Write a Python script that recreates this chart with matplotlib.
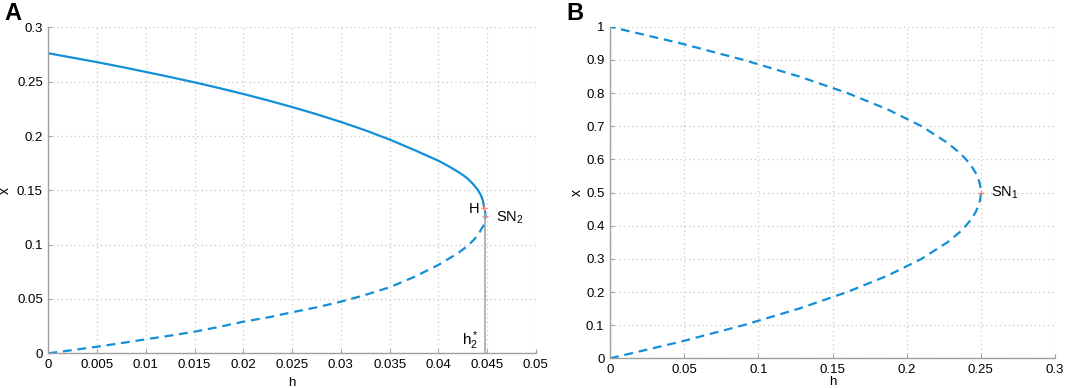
import numpy as np
import matplotlib
matplotlib.use("Agg")
import matplotlib.pyplot as plt

plt.rcParams['font.family'] = ['Liberation Sans', 'DejaVu Sans']

# panel A: equilibrium branches
hA_upper = [0, 0.0025, 0.005, 0.0075, 0.01, 0.0125, 0.015, 0.0175, 0.02, 0.0225, 0.025, 0.0275, 0.03,
            0.0325, 0.035, 0.0375, 0.04, 0.041, 0.042, 0.0426, 0.043, 0.0435, 0.044, 0.0443, 0.0445,
            0.0446, 0.04472]
xA_upper = [0.2762, 0.2721, 0.268, 0.2636, 0.259, 0.2543, 0.2494, 0.2442, 0.2387, 0.2329, 0.2267, 0.2201, 0.2130,
            0.2053, 0.1968, 0.1873, 0.1773, 0.1725, 0.1672, 0.1636, 0.1608, 0.1565, 0.1510, 0.1467, 0.1427,
            0.1392, 0.1335]
hA_lower = [0, 0.0025, 0.005, 0.0075, 0.01, 0.0125, 0.015, 0.0175, 0.02, 0.0225, 0.0248, 0.0275, 0.03,
            0.0325, 0.035, 0.0375, 0.04, 0.042, 0.043, 0.0437, 0.0442, 0.04466, 0.0448,
            0.04484, 0.0448, 0.04472]
xA_lower = [0, 0.003, 0.0061, 0.0094, 0.0129, 0.0163, 0.0199, 0.0243, 0.0291, 0.0330, 0.0374, 0.0423, 0.0475,
            0.0537, 0.0608, 0.0702, 0.0813, 0.0921, 0.0988, 0.1050, 0.1110, 0.1180, 0.1228,
            0.1267, 0.1300, 0.1335]
H_pt = (0.04472, 0.1335)
SN2_pt = (0.04484, 0.1267)

# panel B: single fold, both branches unstable
xB = [0, 0.05, 0.1, 0.15, 0.2, 0.25, 0.3, 0.35, 0.38, 0.4, 0.42, 0.44, 0.46, 0.47, 0.48, 0.49, 0.5,
      0.51, 0.52, 0.53, 0.54, 0.56, 0.58, 0.6, 0.62, 0.65, 0.7, 0.75, 0.8, 0.85, 0.9, 0.95, 1.0]
hB = [0, 0.0475, 0.09, 0.1275, 0.16, 0.1875, 0.21, 0.2275, 0.2356, 0.24, 0.2436, 0.2464, 0.2484, 0.2491,
      0.2496, 0.2499, 0.25,
      0.2499, 0.2496, 0.2491, 0.2484, 0.2464, 0.2436, 0.24, 0.2356, 0.2275, 0.21, 0.1875, 0.16, 0.1275,
      0.09, 0.0475, 0]
SN1_pt = (0.25, 0.5)

blue = '#138fd8'
mark = '#f08a8a'
gridc = '#c8c8c8'

fig = plt.figure(figsize=(10.65, 3.88), dpi=100)
axA = fig.add_axes([0.0454, 0.0894, 0.4577, 0.840])
axB = fig.add_axes([0.5728, 0.0765, 0.4178, 0.8546])


def style(ax, xt, yt):
    ax.set_xticks(xt)
    ax.set_yticks(yt)
    ax.set_xticklabels(['%g' % v for v in xt])
    ax.set_yticklabels(['%g' % v for v in yt])
    ax.set_xlim(xt[0], xt[-1])
    ax.set_ylim(yt[0], yt[-1])
    ax.grid(True, linestyle=(0, (1, 2.5)), color=gridc, linewidth=0.9)
    ax.set_axisbelow(True)
    for s in ['top', 'right']:
        ax.spines[s].set_visible(False)
    for s in ['left', 'bottom']:
        ax.spines[s].set_color('#a0a0a0')
        ax.spines[s].set_linewidth(1.0)
    ax.tick_params(direction='in', length=3, color='#a0a0a0', labelsize=9.5, pad=4)


style(axA, [0, 0.005, 0.01, 0.015, 0.02, 0.025, 0.03, 0.035, 0.04, 0.045, 0.05],
      [0, 0.05, 0.1, 0.15, 0.2, 0.25, 0.3])
axA.plot(hA_upper, xA_upper, color=blue, lw=1.6, solid_capstyle='butt', solid_joinstyle='round')
axA.plot(hA_lower, xA_lower, color=blue, lw=1.6, linestyle=(0, (4, 2.6)))
axA.plot([SN2_pt[0], SN2_pt[0]], [0, SN2_pt[1]], color='#b4b4b4', lw=1.4, zorder=1)
axA.plot(*H_pt, marker='+', color=mark, ms=5, mew=1)
axA.plot(*SN2_pt, marker='+', color=mark, ms=5, mew=1)
axA.text(0.0442, 0.1325, 'H', fontsize=10.5, ha='right', va='center')
axA.text(0.0459, 0.1245, 'SN$_{\\mathregular{2}}$', fontsize=10.5, ha='left', va='center')
axA.text(0.0441, 0.0015, '$\\mathregular{h_2^*}$', fontsize=11, ha='right', va='bottom')
axA.set_xlabel('h', fontsize=9.5)
axA.set_ylabel('x', fontsize=10)
axA.xaxis.set_label_coords(0.5, -0.074)
axA.yaxis.set_label_coords(-0.0745, 0.5)

style(axB, [0, 0.05, 0.1, 0.15, 0.2, 0.25, 0.3],
      [0, 0.1, 0.2, 0.3, 0.4, 0.5, 0.6, 0.7, 0.8, 0.9, 1.0])
axB.plot(hB, xB, color=blue, lw=1.6, linestyle=(0, (4, 2.6)))
axB.plot(*SN1_pt, marker='+', color=mark, ms=5, mew=1)
axB.text(0.257, 0.5, 'SN$_{\\mathregular{1}}$', fontsize=10.5, ha='left', va='center')
axB.set_xlabel('h', fontsize=9.5)
axB.set_ylabel('x', fontsize=10)
axB.xaxis.set_label_coords(0.5, -0.053)
axB.yaxis.set_label_coords(-0.058, 0.5)

fig.text(0.004, 0.995, 'A', fontsize=17, fontweight='bold', ha='left', va='top')
fig.text(0.532, 0.995, 'B', fontsize=17, fontweight='bold', ha='left', va='top')

fig.savefig('out.png', dpi=100)
